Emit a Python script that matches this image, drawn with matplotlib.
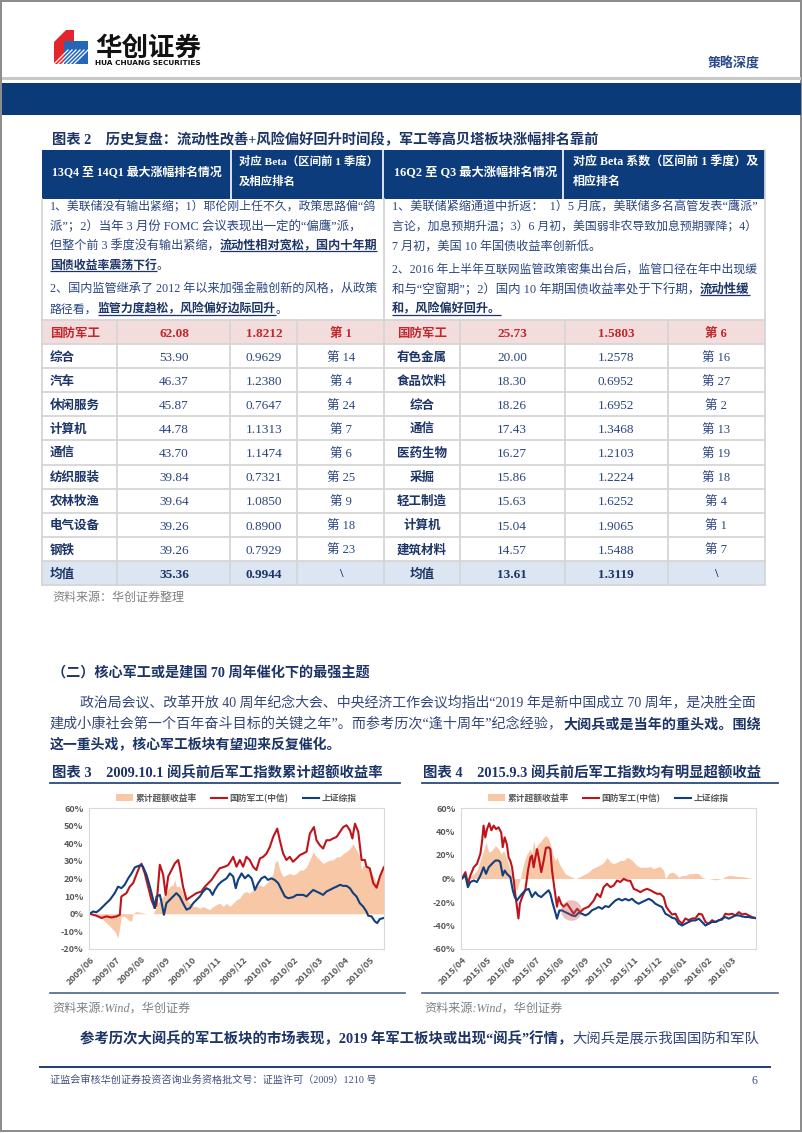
import matplotlib
matplotlib.use('Agg')
import matplotlib.pyplot as plt
from matplotlib.patches import Rectangle, Polygon, Patch
from matplotlib.lines import Line2D
from matplotlib.ticker import FuncFormatter

# ---------------- table data ----------------
left_names = ['国防军工', '综合', '汽车', '休闲服务', '计算机', '通信', '纺织服装', '农林牧渔', '电气设备', '钢铁', '均值']
left_gain = [62.08, 53.90, 46.37, 45.87, 44.78, 43.70, 39.84, 39.64, 39.26, 39.26, 35.36]
left_beta = [1.8212, 0.9629, 1.2380, 0.7647, 1.1313, 1.1474, 0.7321, 1.0850, 0.8900, 0.7929, 0.9944]
left_rank = ['第 1', '第 14', '第 4', '第 24', '第 7', '第 6', '第 25', '第 9', '第 18', '第 23', '\\']
right_names = ['国防军工', '有色金属', '食品饮料', '综合', '通信', '医药生物', '采掘', '轻工制造', '计算机', '建筑材料', '均值']
right_gain = [25.73, 20.00, 18.30, 18.26, 17.43, 16.27, 15.86, 15.63, 15.04, 14.57, 13.61]
right_beta = [1.5803, 1.2578, 0.6952, 1.6952, 1.3468, 1.2103, 1.2224, 1.6252, 1.9065, 1.5488, 1.3119]
right_rank = ['第 6', '第 16', '第 27', '第 2', '第 13', '第 19', '第 18', '第 4', '第 1', '第 7', '\\']

# ---------------- chart 3 data (months since 2009/06, %) ----------------
labels3 = ['2009/06', '2009/07', '2009/08', '2009/09', '2009/10', '2009/11', '2009/12',
           '2010/01', '2010/02', '2010/03', '2010/04', '2010/05']
t3_red = [0, 0.26, 0.46, 0.65, 0.85, 1.05, 1.18, 1.24, 1.44, 1.57, 1.70, 1.83, 1.96, 2.03, 2.16,
          2.29, 2.42, 2.55, 2.62, 2.75, 2.88, 2.98, 3.08, 3.21, 3.34, 3.47, 3.53, 3.66, 3.80, 3.99,
          4.19, 4.38, 4.52, 4.65, 4.78, 4.91, 5.10, 5.30, 5.43, 5.56, 5.63, 5.76, 5.89, 6.02, 6.15,
          6.28, 6.41, 6.54, 6.68, 6.81, 6.94, 7.07, 7.20, 7.36, 7.46, 7.59, 7.72, 7.85, 7.98, 8.12,
          8.25, 8.38, 8.51, 8.64, 8.80, 8.90, 9.03, 9.16, 9.29, 9.42, 9.55, 9.69, 9.82, 9.95, 10.08,
          10.21, 10.31, 10.41, 10.54, 10.67, 10.80, 10.86, 10.99, 11.13, 11.26, 11.39, 11.54]
red3 = [0, -1.1, -2.4, -1.5, -2.1, -1.5, -0.6, 9.8, 11.7, 15.4, 17.3, 22.2, 26.9, 28.4, 22.9,
        15.4, 7.9, 3.2, 5.0, 27.8, 22.2, 10.7, 21.2, 24.8, 28.6, 30.5, 26.7, 15.4, 7.9, 9.8,
        11.7, 12.6, 15.4, 17.3, 19.2, 22.0, 25.8, 26.7, 27.6, 30.5, 32.3, 26.7, 30.5, 26.7, 32.3,
        30.5, 26.7, 24.8, 31.4, 32.3, 34.2, 38.0, 43.6, 48.3, 41.7, 34.2, 30.5, 32.3, 29.5, 31.4,
        33.3, 34.2, 35.2, 45.5, 49.2, 41.7, 38.9, 37.0, 41.7, 41.7, 42.7, 43.6, 46.4, 49.2, 50.2,
        47.4, 42.7, 51.1, 46.4, 30.5, 30.5, 26.7, 25.8, 17.3, 14.8, 21.2, 26.3]
t3_blue = [0, 0.13, 0.26, 0.39, 0.52, 0.65, 0.79, 0.98, 1.11, 1.24, 1.37, 1.51, 1.64, 1.77, 1.90,
           2.03, 2.09, 2.23, 2.36, 2.49, 2.55, 2.62, 2.75, 2.81, 2.91, 3.01, 3.14, 3.27, 3.40, 3.53,
           3.66, 3.80, 3.93, 4.06, 4.19, 4.32, 4.45, 4.58, 4.71, 4.82, 4.91, 5.04, 5.17, 5.37, 5.50,
           5.63, 5.73, 5.82, 5.96, 6.09, 6.22, 6.35, 6.41, 6.48, 6.61, 6.74, 6.87, 7.00, 7.13, 7.26,
           7.40, 7.53, 7.66, 7.79, 7.98, 8.12, 8.38, 8.51, 8.64, 8.77, 8.90, 9.03, 9.16, 9.29, 9.42,
           9.55, 9.69, 9.82, 9.95, 10.08, 10.21, 10.34, 10.47, 10.60, 10.73, 10.86, 10.93, 11.06,
           11.19, 11.28, 11.39, 11.54]
blue3 = [0, 1.3, 0.8, 2.3, 4.1, 6.0, 7.9, 11.7, 15.4, 14.5, 16.4, 20.1, 22.9, 26.3, 27.1,
         27.6, 26.7, 22.0, 15.4, 7.9, 3.2, 9.8, 10.7, 7.0, -0.6, 6.0, 7.9, 9.8, 11.7, 9.8,
         6.0, 2.3, 3.2, 6.0, 7.9, 9.8, 12.6, 14.5, 13.5, 10.7, 13.5, 16.4, 18.2, 20.1, 22.9,
         21.1, 14.5, 19.2, 22.9, 20.1, 22.0, 20.1, 17.3, 13.5, 17.3, 20.1, 21.1, 19.2, 20.1, 19.2,
         17.3, 13.5, 9.8, 8.8, 9.4, 10.7, 10.7, 9.8, 11.7, 13.5, 12.6, 11.7, 10.7, 12.6, 13.5,
         14.5, 15.4, 16.4, 15.8, 15.8, 14.5, 11.7, 9.8, 6.0, 4.1, 1.3, -1.1, -1.5,
         -4.3, -5.3, -3.0, -2.4]
t3_exc = [0, 0.26, 0.52, 0.79, 0.98, 1.11, 1.18, 1.24, 1.37, 1.51, 1.64, 1.70, 1.83, 1.96, 2.09,
          2.23, 2.49, 2.62, 2.75, 2.88, 3.01, 3.14, 3.27, 3.34, 3.40, 3.53, 3.66, 3.80, 3.93, 4.06,
          4.19, 4.32, 4.45, 4.58, 4.71, 4.84, 4.97, 5.10, 5.24, 5.37, 5.50, 5.63, 5.76, 5.89, 6.02,
          6.15, 6.28, 6.41, 6.54, 6.68, 6.81, 6.94, 7.07, 7.20, 7.26, 7.36, 7.46, 7.59, 7.72, 7.85,
          7.98, 8.12, 8.25, 8.38, 8.51, 8.64, 8.77, 8.90, 9.03, 9.16, 9.29, 9.42, 9.55, 9.69, 9.82,
          9.95, 10.08, 10.21, 10.34, 10.47, 10.60, 10.67, 10.73, 10.86, 10.99, 11.13, 11.26, 11.39, 11.54]
exc3 = [0, -0.6, -3.4, -7.1, -9.9, -13.7, -7.1, -1.5, -1.5, -3.4, -4.3, 0, 1.3, 0.8, 0.4,
        0, 0, 4.1, 7.9, 9.8, 12.6, 15.4, 16.4, 19.2, 15.4, 15.4, 11.7, 7.9, 6.0, 4.1,
        4.1, 3.2, 4.1, 3.2, 2.3, 4.1, 5.1, 6.0, 4.1, 6.0, 4.1, 6.0, 7.9, 8.8, 11.7,
        12.6, 11.7, 13.5, 15.4, 16.4, 15.4, 17.3, 19.2, 22.9, 28.6, 30.5, 24.8, 21.1, 22.0, 22.9,
        22.0, 22.9, 24.8, 24.8, 26.7, 30.5, 35.2, 32.3, 30.5, 28.6, 29.5, 30.5, 30.5, 32.3, 32.3,
        34.2, 35.2, 37.0, 39.8, 36.1, 32.3, 24.8, 27.6, 26.7, 24.8, 21.1, 17.3, 22.0, 28.6]

# ---------------- chart 4 data (months since 2015/04, %) ----------------
labels4 = ['2015/04', '2015/05', '2015/06', '2015/07', '2015/08', '2015/09', '2015/10',
           '2015/11', '2015/12', '2016/01', '2016/02', '2016/03']
t4_red = [0, 0.14, 0.24, 0.34, 0.48, 0.61, 0.75, 0.82, 0.88, 0.95, 1.02, 1.11, 1.20, 1.29, 1.39,
          1.49, 1.60, 1.66, 1.74, 1.83, 1.90, 1.97, 2.04, 2.11, 2.17, 2.24, 2.30, 2.36, 2.45, 2.58,
          2.69, 2.79, 2.85, 2.92, 2.99, 3.06, 3.15, 3.23, 3.33, 3.42, 3.53, 3.60, 3.67, 3.76, 3.87,
          3.94, 4.04, 4.14, 4.28, 4.42, 4.55, 4.69, 4.82, 4.96, 5.16, 5.37, 5.50, 5.64, 5.77, 5.91,
          6.05, 6.18, 6.32, 6.45, 6.59, 6.73, 6.86, 7.00, 7.13, 7.27, 7.40, 7.54, 7.68, 7.81, 7.95,
          8.08, 8.22, 8.32, 8.42, 8.56, 8.70, 8.83, 8.97, 9.10, 9.24, 9.38, 9.51, 9.65, 9.78, 9.92,
          10.05, 10.19, 10.33, 10.46, 10.60, 10.73, 10.87, 11.01, 11.14, 11.28, 11.41, 11.55, 11.68,
          11.82, 11.96]
red4 = [0, 5.4, -4.5, 2.5, 9.6, 12.5, 21.0, 32.0, 45.0, 35.0, 42.0, 47.0, 41.0, 45.0, 42.0,
        43.6, 39.0, 26.6, 35.0, 29.0, 18.0, 15.0, 9.6, -1.7, -13.0, -24.0, -34.0, -21.5, -15.8, -10.0,
        6.8, 18.0, 19.5, 9.6, 18.0, 25.0, 15.3, 5.4, 15.3, 26.0, 26.6, 25.0, 6.8, -7.4, -24.0,
        -15.8, -21.5, -24.0, -21.5, -25.8, -30.0, -25.8, -28.6, -25.8, -24.0, -18.7, -13.0, -15.8, -7.4, -4.5,
        -7.4, -6.0, -1.7, -3.0, -0.3, -1.7, -2.0, -8.8, -10.0, -11.6, -10.0, -8.8, -10.0, -11.6, -13.0,
        -13.0, -15.8, -24.0, -27.0, -30.6, -30.0, -35.7, -38.5, -34.0, -35.5, -34.0, -34.0, -30.0, -30.6, -37.0,
        -38.5, -35.5, -37.0, -35.5, -35.0, -30.0, -30.6, -30.0, -31.4, -28.6, -30.6, -30.0, -31.4,
        -32.8, -33.7]
t4_blue = [0, 0.14, 0.24, 0.34, 0.48, 0.61, 0.75, 0.88, 0.98, 1.09, 1.22, 1.36, 1.49, 1.56, 1.66,
           1.74, 1.83, 1.97, 2.07, 2.15, 2.24, 2.34, 2.45, 2.58, 2.72, 2.85, 2.99, 3.10, 3.23, 3.37,
           3.53, 3.60, 3.70, 3.80, 3.87, 3.97, 4.08, 4.21, 4.35, 4.48, 4.62, 4.76, 4.89, 5.03, 5.16,
           5.30, 5.43, 5.57, 5.71, 5.84, 5.98, 6.11, 6.25, 6.39, 6.52, 6.66, 6.79, 6.93, 7.07, 7.20,
           7.34, 7.47, 7.61, 7.74, 7.88, 8.02, 8.15, 8.29, 8.42, 8.56, 8.70, 8.83, 8.97, 9.10, 9.24,
           9.38, 9.51, 9.65, 9.78, 9.92, 10.05, 10.19, 10.33, 10.46, 10.60, 10.73, 10.87, 11.01, 11.14,
           11.28, 11.41, 11.55, 11.68, 11.82, 11.96]
blue4 = [0, 2.5, -7.4, -3.0, -1.7, -3.0, 2.5, 9.6, 4.0, 9.6, 12.5, 15.3, 15.3, 13.9, 2.5,
         6.8, 4.0, 1.1, -10.0, -15.8, -18.7, -15.8, -13.0, -10.0, -8.8, -15.8, -11.6, -14.4, -15.8, -13.0,
         -10.0, -13.0, -21.5, -28.6, -34.2, -27.2, -27.2, -28.6, -30.0, -31.4, -32.0, -29.0, -30.0, -31.4, -30.0,
         -27.0, -25.8, -24.3, -25.8, -23.5, -24.3, -21.5, -18.7, -17.3, -18.7, -17.3, -18.7, -17.3, -20.0, -21.5,
         -20.0, -18.7, -17.3, -18.7, -21.5, -23.0, -24.3, -30.0, -31.4, -33.4, -34.2, -38.5, -40.0, -38.5, -37.0,
         -35.7, -35.7, -34.2, -37.0, -40.0, -38.5, -37.0, -37.0, -35.7, -34.2, -32.8, -34.2, -32.8, -31.4,
         -31.4, -32.3, -32.8, -32.8, -33.4, -33.7]
t4_exc = [0, 0.27, 0.48, 0.61, 0.75, 0.88, 0.98, 1.09, 1.22, 1.36, 1.49, 1.60, 1.70, 1.83, 1.97,
          2.04, 2.11, 2.17, 2.24, 2.31, 2.38, 2.45, 2.55, 2.65, 2.79, 2.85, 2.92, 2.99, 3.10, 3.19,
          3.33, 3.42, 3.53, 3.60, 3.70, 3.80, 3.87, 3.97, 4.08, 4.21, 4.35, 4.48, 4.62, 4.76, 4.89,
          5.03, 5.16, 5.30, 5.43, 5.57, 5.71, 5.84, 5.91, 6.05, 6.18, 6.32, 6.45, 6.59, 6.73, 6.86,
          7.00, 7.13, 7.27, 7.40, 7.54, 7.68, 7.81, 7.95, 8.08, 8.22, 8.29, 8.42, 8.56, 8.70, 8.83,
          8.97, 9.10, 9.24, 9.38, 9.51, 9.65, 9.78, 9.92, 10.05, 10.19, 10.33, 10.46, 10.60, 10.73,
          10.87, 11.01, 11.14, 11.28, 11.41, 11.55, 11.68, 11.82, 11.96]
exc4 = [0, 1.1, 4.0, 6.8, 15.3, 23.8, 30.9, 22.4, 23.8, 28.0, 25.2, 21.0, 23.8, 16.7, 6.8,
        0, -4.5, -7.4, -10.0, -4.5, 0, 6.8, 15.3, 21.0, 25.2, 21.0, 32.3, 25.2, 29.4, 30.9,
        35.0, 36.5, 33.7, 29.4, 21.0, 15.3, 18.0, 12.5, 8.2, 4.0, 2.5, 1.1, 0, 1.1, 2.5,
        4.0, 5.4, 8.2, 9.6, 11.0, 12.5, 15.3, 18.0, 13.9, 12.5, 13.9, 15.3, 15.3, 18.0, 16.7,
        13.9, 11.0, 9.6, 9.6, 9.6, 10.2, 8.2, 9.6, 10.2, 6.8, 0, 4.0, 5.4, 4.0, 1.1,
        2.5, 2.5, 4.0, 4.0, 4.5, 4.0, 1.1, 0, 0, -0.6, -1.1, -0.6, 0, 1.7,
        2.5, 2.5, 1.9, 1.7, 1.7, 1.1, 0.6, 0, 0]
highlight_t4 = [4.45]
highlight_v4 = [-26.5]

# ---------------- page setup ----------------
W, H = 802, 1133
fig = plt.figure(figsize=(W / 100, H / 100), dpi=100)
pg = fig.add_axes([0, 0, 1, 1])
pg.set_xlim(0, W)
pg.set_ylim(H, 0)
pg.axis('off')
R = fig.canvas.get_renderer()

SERIF = ['Liberation Serif', 'Noto Sans CJK SC']
SANS = ['Noto Sans CJK SC', 'DejaVu Sans']
PX = 100 / 72

NAVY = '#1C3466'
BODY = '#34477A'
TBL = '#2A4680'
BLUE = '#0D3C7C'
RED = '#C0141C'
LBLUE = '#123F7E'
PEACH = '#F7C7A6'
GRAY = '#808080'


def runs(x, yc, parts, size, width=None, scale=None, fam=SERIF, lo=0.75, hi=1.3, style='normal'):
    objs = []
    for p in parts:
        t = pg.text(x, yc, p[0], fontsize=size, color=p[1], fontweight=p[2], family=fam,
                    ha='left', va='baseline', style=style)
        objs.append(t)
    sc = 1.0
    if scale is not None:
        sc = scale
    elif width is not None:
        tot = sum(t.get_window_extent(R).width for t in objs)
        sc = min(hi, max(lo, width / tot))
    fs = size * sc
    base = yc + 0.36 * fs * PX
    cx = x
    for t, p in zip(objs, parts):
        t.set_fontsize(fs)
        t.set_y(base)
        t.set_x(cx)
        wd = t.get_window_extent(R).width
        if len(p) > 3 and p[3]:
            pg.plot([cx, cx + wd], [base + 0.17 * fs * PX] * 2, color=p[1], lw=0.9,
                    solid_capstyle='butt')
        cx += wd
    return sc


def ctext(x, yc, s, size, color, weight='normal', fam=SERIF):
    pg.text(x, yc + 0.36 * size * PX, s, ha='center', va='baseline', fontsize=size,
            color=color, fontweight=weight, family=fam)


# page border
pg.add_patch(Rectangle((0.8, 0.8), W - 2, H - 2.5, fill=False, ec='#8A8A8A', lw=1.4))

# logo
pg.add_patch(Polygon([(54, 42), (66, 30), (74, 30), (74, 52), (62, 64), (54, 64)],
                     closed=True, fc='#E3262B', lw=0))
pg.add_patch(Polygon([(64, 41), (88, 41), (88, 64), (64, 64)], closed=True, fc='#2467B4', lw=0))
for k in range(6):
    o = 4 * k
    pg.plot([54 + o, 68 + o], [64, 50], color='white', lw=0.9)
runs(95, 46, [('华创证券', '#111111', 'bold')], 17, width=106, fam=SANS)
runs(95, 62, [('HUA CHUANG SECURITIES', '#111111', 'bold')], 6, width=106,
     fam=['DejaVu Sans'])
runs(708, 63, [('策略深度', '#2A4A8C', 'bold')], 9, width=52, fam=SANS)

# header bands
pg.add_patch(Rectangle((1.5, 77), W - 3, 3, fc='#C8C8C8', lw=0))
pg.add_patch(Rectangle((1.5, 83), W - 3, 32, fc='#0B3A78', lw=0))

# table title
runs(52, 139, [('图表 2    历史复盘：流动性改善+风险偏好回升时间段，军工等高贝塔板块涨幅排名靠前',
                NAVY, 'bold')], 10, width=548)

# table header
pg.add_patch(Rectangle((42, 150), 723, 49, fc=BLUE, lw=0))
for xv in [231, 383, 563]:
    pg.plot([xv, xv], [150, 199], color='white', lw=1.2)
runs(52, 172, [('13Q4 至 14Q1 最大涨幅排名情况', 'white', 'bold')], 9, width=171)
s1 = runs(239, 161, [('对应 Beta（区间前 1 季度）', 'white', 'bold')], 9, width=139)
runs(239, 181, [('及相应排名', 'white', 'bold')], 9, scale=s1)
runs(394, 172, [('16Q2 至 Q3 最大涨幅排名情况', 'white', 'bold')], 9, width=163)
s2 = runs(573, 161, [('对应 Beta 系数（区间前 1 季度）及', 'white', 'bold')], 9, width=185)
runs(573, 181, [('相应排名', 'white', 'bold')], 9, scale=s2)

# descriptive text rows
TB = 'bold'
TS = 8.0
sL = runs(50, 206, [('1、美联储没有输出紧缩；1）耶伦刚上任不久，政策思路偏“鸽', TBL, 'normal')], TS, width=328, hi=1.12)
runs(50, 225.5, [('派”；2）当年 3 月份 FOMC 会议表现出一定的“偏鹰”派，', TBL, 'normal')], TS, width=328, hi=1.12)
runs(50, 245, [('但整个前 3 季度没有输出紧缩，', TBL, 'normal'),
               ('流动性相对宽松，国内十年期', NAVY, TB, True)], TS, width=328, hi=1.12)
runs(50, 264.5, [('国债收益率震荡下行', NAVY, TB, True), ('。', TBL, 'normal')], TS, scale=sL)
runs(50, 288.5, [('2、国内监管继承了 2012 年以来加强金融创新的风格，从政策', TBL, 'normal')], TS, width=328, hi=1.12)
runs(50, 308.5, [('路径看，', TBL, 'normal'), ('监管力度趋松，风险偏好边际回升', NAVY, TB, True),
                 ('。', TBL, 'normal')], TS, scale=sL)

sR = runs(392, 206, [('1、美联储紧缩通道中折返：  1）5 月底，美联储多名高管发表“鹰派”', TBL, 'normal')], TS, width=366, hi=1.12)
runs(392, 225.5, [('言论，加息预期升温；3）6 月初，美国弱非农导致加息预期骤降；4）', TBL, 'normal')], TS, width=366, hi=1.12)
runs(392, 245, [('7 月初，美国 10 年国债收益率创新低。', TBL, 'normal')], TS, scale=sR)
runs(392, 268.5, [('2、2016 年上半年互联网监管政策密集出台后，监管口径在年中出现缓', TBL, 'normal')], TS, width=366, hi=1.12)
runs(392, 288.5, [('和与“空窗期”；2）国内 10 年期国债收益率处于下行期，', TBL, 'normal'),
                  ('流动性缓', NAVY, TB, True)], TS, width=366, hi=1.12)
runs(392, 308.5, [('和，风险偏好回升。', NAVY, TB, True)], TS, scale=sR)

# data rows
y0 = 320
rh = (585 - 320) / 11
for i in range(11):
    top = y0 + i * rh
    if i == 0:
        pg.add_patch(Rectangle((42, top), 723, rh, fc='#F3DCDC', lw=0))
        col, wt = '#C0272D', 'bold'
    elif i == 10:
        pg.add_patch(Rectangle((42, top), 723, rh, fc='#DCE6F2', lw=0))
        col, wt = NAVY, 'bold'
    else:
        col, wt = TBL, 'normal'
    ncol = col if i in (0, 10) else NAVY
    yc = top + rh / 2
    runs(50, yc, [(left_names[i], ncol, 'bold')], 9)
    ctext(174, yc, f'{left_gain[i]:.2f}', 9.5, col, wt)
    ctext(264, yc, f'{left_beta[i]:.4f}', 9.5, col, wt)
    ctext(341, yc, left_rank[i], 9, col, wt)
    ctext(422, yc, right_names[i], 9, ncol, 'bold')
    ctext(512, yc, f'{right_gain[i]:.2f}', 9.5, col, wt)
    ctext(616, yc, f'{right_beta[i]:.4f}', 9.5, col, wt)
    ctext(716, yc, right_rank[i], 9, col, wt)

GL = '#D6D6D6'
for i in range(12):
    yy = y0 + i * rh
    pg.plot([42, 765], [yy, yy], color=GL, lw=1.3)
for xv in [117, 230, 297, 460, 565, 668]:
    pg.plot([xv, xv], [320, 585], color=GL, lw=1.3)
pg.plot([384, 384], [199, 585], color=GL, lw=1.3)
pg.plot([42, 42], [199, 585], color=GL, lw=1.3)
pg.plot([765, 765], [150, 585], color=GL, lw=1.3)

runs(52, 597, [('资料来源：华创证券整理', GRAY, 'normal')], 8.5, width=132)

# section heading & paragraph
runs(52, 671, [('（二）核心军工或是建国 70 周年催化下的最强主题', NAVY, 'bold')], 10.5, width=320)
sP = runs(80, 702, [('政治局会议、改革开放 40 周年纪念大会、中央经济工作会议均指出“2019 年是新中国成立 70 周年，是决胜全面',
                     BODY, 'normal')], 10, width=678)
runs(50, 723, [('建成小康社会第一个百年奋斗目标的关键之年”。而参考历次“逢十周年”纪念经验，', BODY, 'normal'),
               ('大阅兵或是当年的重头戏。围绕', NAVY, 'bold')], 10, width=708)
runs(50, 744, [('这一重头戏，核心军工板块有望迎来反复催化。', NAVY, 'bold')], 10, scale=sP)

# chart titles
runs(52, 772, [('图表 3    2009.10.1 阅兵前后军工指数累计超额收益率', NAVY, 'bold')], 10, width=330)
runs(423, 772, [('图表 4    2015.9.3 阅兵前后军工指数均有明显超额收益', NAVY, 'bold')], 10, width=339)
pg.plot([50, 400], [783, 783], color='#2A4A80', lw=1.3)
pg.plot([422, 778], [783, 783], color='#2A4A80', lw=1.3)
pg.plot([50, 405], [993, 993], color='#4A6690', lw=1.2)
pg.plot([422, 778], [993, 993], color='#4A6690', lw=1.2)


def chart(rect, xlim, ylim, yticks, xlabels, t_e, e, t_r, r, t_b, b):
    ax = fig.add_axes(rect)
    ax.fill_between(t_e, e, 0, color=PEACH, lw=0)
    ax.plot(t_r, r, color=RED, lw=1.5)
    ax.plot(t_b, b, color=LBLUE, lw=1.5)
    ax.set_xlim(*xlim)
    ax.set_ylim(*ylim)
    ax.set_yticks(yticks)
    ax.yaxis.set_major_formatter(FuncFormatter(lambda v, p: f'{v:.0f}%'))
    ax.set_xticks(range(len(xlabels)))
    ax.set_xticklabels(xlabels, rotation=45, ha='right', rotation_mode='anchor')
    ax.tick_params(length=0, labelsize=6.5, colors='#595959', pad=4)
    for lab in ax.get_xticklabels() + ax.get_yticklabels():
        lab.set_fontfamily(SANS)
        lab.set_fontweight('bold')
    for s in ax.spines.values():
        s.set_color('#D9D9D9')
        s.set_linewidth(0.8)
    handles = [Patch(facecolor=PEACH, edgecolor='none', label='累计超额收益率'),
               Line2D([], [], color=RED, lw=1.5, label='国防军工(中信)'),
               Line2D([], [], color=LBLUE, lw=1.5, label='上证综指')]
    leg = ax.legend(handles=handles, loc='lower center', bbox_to_anchor=(0.5, 1.0), ncol=3,
                    frameon=False, prop={'family': SANS, 'size': 6.3, 'weight': 'bold'},
                    handlelength=1.9, handleheight=0.8, columnspacing=1.6, handletextpad=0.3,
                    borderaxespad=0.2)
    for t in leg.get_texts():
        t.set_color('#595959')
    return ax


def rect_px(x0, y0_, x1, y1):
    return [x0 / W, 1 - y1 / H, (x1 - x0) / W, (y1 - y0_) / H]


ax3 = chart(rect_px(89, 808, 384, 949), (-0.03, 11.55), (-20, 60), range(-20, 61, 10), labels3,
            t3_exc, exc3, t3_red, red3, t3_blue, blue3)
ax4 = chart(rect_px(461, 808, 756, 949), (-0.04, 11.98), (-60, 60), range(-60, 61, 20), labels4,
            t4_exc, exc4, t4_red, red4, t4_blue, blue4)
ax4.scatter(highlight_t4, highlight_v4, s=220, color='#C0504D', alpha=0.35, lw=0, zorder=5)

runs(52, 1007, [('资料来源:Wind，华创证券', GRAY, 'normal')], 8.5, width=137, style='italic')
runs(424, 1007, [('资料来源:Wind，华创证券', GRAY, 'normal')], 8.5, width=137, style='italic')

# final paragraph
runs(80, 1038, [('参考历次大阅兵的军工板块的市场表现，2019 年军工板块或出现“阅兵”行情，', NAVY, 'bold'),
                ('大阅兵是展示我国国防和军队', BODY, 'normal')], 10, width=679)

# footer
pg.plot([40, 770], [1067, 1067], color='#1F3C73', lw=1.4)
runs(50, 1080, [('证监会审核华创证券投资咨询业务资格批文号：证监许可（2009）1210 号', '#3F4F7F', 'normal')],
     7.5, width=325)
runs(752, 1080, [('6', '#3F4F7F', 'normal')], 8.5)

fig.savefig('out.png', dpi=100)
